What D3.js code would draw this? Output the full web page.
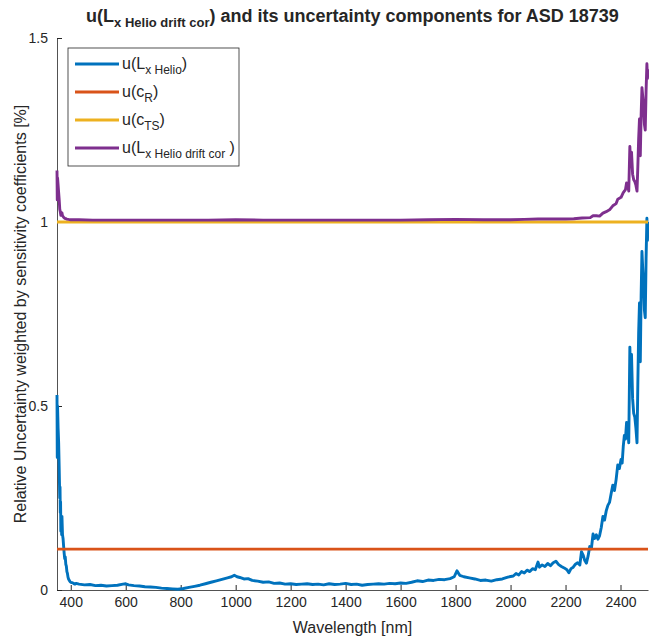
<!DOCTYPE html>
<html>
<head>
<meta charset="utf-8">
<script src="https://cdn.jsdelivr.net/npm/d3@7"></script>
<style>
body { margin: 0; background: #fff; }
text { font-family: "Liberation Sans", Arial, sans-serif; fill: #262626; }
</style>
</head>
<body>
<div id="chart"></div>
<script>
// u(L x Helio)
const wlHelio = [350,351,352,353,354,356,358,360,361,362,363,364,366,367,368,370,372,374,376,378,380,382,384,386,388,390,392,395,398,402,406,410,415,420,
  430,450,470,490,510,530,550,570,590,600,610,630,650,670,690,710,730,750,770,790,810,830,850,870,890,910,930,950,970,985,995,1005,1015,1030,1045,1060,1080,
  1100,1120,1140,1160,1180,1200,1220,1240,1260,1280,1300,1320,1340,1360,1380,1400,1420,1440,1460,1480,1500,1520,1540,1560,1580,1600,1620,1640,1660,1680,
  1700,1720,1740,1760,1780,1795,1805,1815,1830,1850,1870,1890,1910,1930,1950,1970,1990,2010,2020,2030,2040,2050,2060,2070,2080,2090,2100,2105,2115,2125,
  2135,2145,2155,2165,2175,2185,2195,2205,2212,2220,2228,2236,2244,2252,2258,2264,2270,2276,2282,2288,2294,2300,2306,2312,2318,2324,2330,2336,2342,2348,
  2354,2360,2366,2372,2378,2384,2390,2396,2402,2406,2410,2414,2418,2422,2426,2430,2434,2437,2440,2444,2448,2452,2456,2460,2463,2466,2469,2472,2475,2478,
  2481,2484,2487,2490,2493,2496,2498,2500];
const uLxHelio = [0.53,0.36,0.50,0.47,0.44,0.40,0.33,0.25,0.28,0.21,0.24,0.16,0.18,0.15,0.20,0.15,0.14,0.12,0.10,0.085,0.09,0.07,0.065,0.05,0.045,0.035,0.03,0.026,0.022,0.02,0.02,0.018,0.016,0.018,
  0.016,0.014,0.015,0.012,0.013,0.011,0.012,0.013,0.016,0.017,0.014,0.012,0.011,0.009,0.008,0.007,0.005,0.004,0.003,0.002,0.004,0.007,0.010,0.013,0.017,0.021,0.025,0.029,0.033,0.036,0.040,0.036,0.034,0.030,0.031,0.026,0.024,
  0.021,0.022,0.018,0.019,0.016,0.017,0.015,0.016,0.017,0.015,0.016,0.014,0.017,0.015,0.016,0.018,0.015,0.016,0.013,0.015,0.016,0.017,0.016,0.018,0.017,0.019,0.018,0.021,0.025,0.023,
  0.027,0.026,0.029,0.028,0.031,0.036,0.052,0.040,0.036,0.033,0.030,0.026,0.027,0.024,0.028,0.030,0.035,0.038,0.045,0.041,0.050,0.046,0.054,0.050,0.058,0.055,0.076,0.062,0.068,0.064,
  0.072,0.066,0.074,0.078,0.069,0.064,0.060,0.055,0.047,0.058,0.062,0.070,0.074,0.068,0.104,0.095,0.080,0.073,0.092,0.118,0.112,0.152,0.140,0.150,0.138,0.148,0.170,0.200,0.190,0.215,
  0.230,0.238,0.262,0.285,0.270,0.300,0.340,0.330,0.355,0.345,0.390,0.420,0.410,0.455,0.440,0.400,0.660,0.560,0.640,0.520,0.480,0.470,0.440,0.400,0.560,0.700,0.780,0.620,0.800,0.920,
  0.870,0.830,0.760,0.740,0.900,1.010,0.950,1.000];

// u(cR) and u(cTS) are flat
const wlFlat = [350, 2500];
const uCR = [0.111, 0.111];
const uCTS = [1.0, 1.0];

// combined u(L x Helio drift cor)
const wlCor = [350,351,352,354,356,358,360,362,364,366,368,370,374,378,382,386,392,400,430,480,530,600,700,800,900,1000,1100,1200,1300,1400,1500,1600,1700,1800,1900,2000,
  2050,2100,2150,2200,2230,2260,2290,2300,2312,2324,2336,2348,2360,2372,2384,2390,2402,2410,2418,2422,2426,2430,2434,2437,2440,2444,2448,2452,2456,2460,2463,2466,2469,2472,2475,2478,
  2481,2484,2487,2490,2493,2496,2498,2500];
const uLxHelioDriftCor = [1.14,1.06,1.12,1.10,1.08,1.06,1.035,1.028,1.018,1.021,1.025,1.017,1.013,1.010,1.009,1.008,1.007,1.006,1.006,1.005,1.005,1.005,1.005,1.005,1.005,1.006,1.005,1.005,1.005,1.005,1.005,1.005,1.006,1.007,1.006,1.006,
  1.007,1.008,1.008,1.008,1.009,1.011,1.012,1.017,1.017,1.016,1.024,1.028,1.033,1.044,1.050,1.062,1.067,1.080,1.088,1.106,1.100,1.084,1.205,1.15,1.19,1.13,1.115,1.110,1.100,1.084,1.150,1.226,1.280,1.180,1.290,1.365,
  1.340,1.310,1.265,1.250,1.356,1.430,1.390,1.415];

const xTicks = [400,600,800,1000,1200,1400,1600,1800,2000,2200,2400];
const yTicks = [0, 0.5, 1, 1.5];

const colors = ['#0072bd', '#d95319', '#edb120', '#7e2f8e'];

const margin = {top: 38, right: 1, bottom: 50, left: 57};
const outerWidth = 649;
const outerHeight = 640;
const width = outerWidth - margin.left - margin.right;
const height = outerHeight - margin.top - margin.bottom;

const svg = d3.select('#chart').append('svg')
    .attr('width', outerWidth)
    .attr('height', outerHeight);

const g = svg.append('g')
    .attr('transform', `translate(${margin.left}, ${margin.top})`);

const x = d3.scaleLinear().domain([350, 2500]).range([0, width]);
const y = d3.scaleLinear().domain([0, 1.5]).range([height, 0]);

// text with subscript pieces
function richText(sel, parts, size, subSize) {
    let down = false;
    parts.forEach(p => {
        const t = sel.append('tspan').text(p[0]);
        if (p[1] && !down) { t.attr('dy', size * 0.3).attr('font-size', subSize); down = true; }
        else if (!p[1] && down) { t.attr('dy', -size * 0.3).attr('font-size', size); down = false; }
        else t.attr('font-size', p[1] ? subSize : size);
    });
}

// Axes
const gx = g.append('g')
    .attr('transform', `translate(0, ${height})`)
    .call(d3.axisBottom(x).tickValues(xTicks).tickFormat(d3.format('d')).tickSizeInner(-5).tickSizeOuter(0).tickPadding(7));
const gy = g.append('g')
    .call(d3.axisLeft(y).tickValues(yTicks).tickFormat(d => d).tickSizeInner(-5).tickSizeOuter(0).tickPadding(9));
[gx, gy].forEach(a => {
    a.selectAll('text').attr('font-size', 14).attr('font-family', null).style('fill', '#262626');
    a.selectAll('line').attr('stroke', '#262626');
    a.select('.domain').attr('stroke', '#262626').attr('stroke-width', 0.8);
});

// Lines
const line = d3.line().x(d => x(d[0])).y(d => y(d[1]));
const series = [
    d3.zip(wlHelio, uLxHelio),
    d3.zip(wlFlat, uCR),
    d3.zip(wlFlat, uCTS),
    d3.zip(wlCor, uLxHelioDriftCor)
];
series.forEach((s, i) => {
    g.append('path')
        .datum(s)
        .attr('fill', 'none')
        .attr('stroke', colors[i])
        .attr('stroke-width', 2.9)
        .attr('stroke-linejoin', 'round')
        .attr('d', line);
});

// Labels
g.append('text')
    .attr('x', width / 2)
    .attr('y', height + 43)
    .attr('text-anchor', 'middle')
    .attr('font-size', 16)
    .text('Wavelength [nm]');
g.append('text')
    .attr('transform', `translate(-31, ${height / 2}) rotate(-90)`)
    .attr('text-anchor', 'middle')
    .attr('font-size', 16)
    .text('Relative Uncertainty weighted by sensitivity coefficients [%]');

const title = svg.append('text')
    .attr('x', margin.left + width / 2)
    .attr('y', 22)
    .attr('text-anchor', 'middle')
    .attr('font-weight', 'bold');
richText(title, [['u(L'], ['x Helio drift cor', true], [') and its uncertainty components for ASD 18739']], 18, 13);

// Legend
const legendNames = [
    [['u(L'], ['x Helio', true], [')']],
    [['u(c'], ['R', true], [')']],
    [['u(c'], ['TS', true], [')']],
    [['u(L'], ['x Helio drift cor', true], [' )']]
];
const legend = svg.append('g').attr('transform', 'translate(68, 48)');
legend.append('rect')
    .attr('width', 171).attr('height', 118)
    .attr('fill', '#fff').attr('stroke', '#262626').attr('stroke-width', 0.8);
legendNames.forEach((n, i) => {
    const ly = 16 + i * 28;
    legend.append('line')
        .attr('x1', 7).attr('x2', 51).attr('y1', ly).attr('y2', ly)
        .attr('stroke', colors[i]).attr('stroke-width', 2.9);
    const t = legend.append('text').attr('x', 54).attr('y', ly + 5);
    richText(t, n, 16, 12);
});
</script>
</body>
</html>
